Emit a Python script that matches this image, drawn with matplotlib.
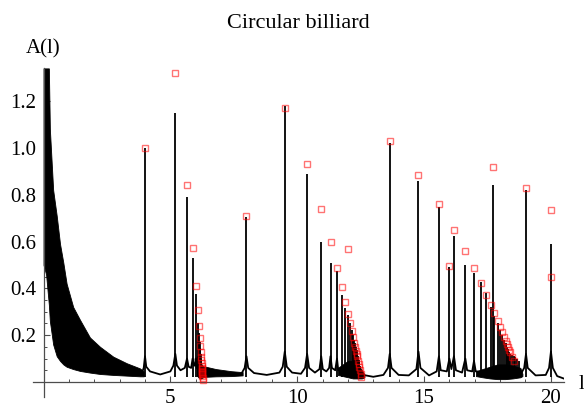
import matplotlib
matplotlib.use("Agg")
import matplotlib.pyplot as plt
from matplotlib.ticker import FixedLocator

# black spectrum: sharp peaks (orbit length, height)
peaks_q1_l = [4.0, 5.196, 5.657, 5.878, 6.0, 6.074, 6.123, 6.156, 6.18, 6.198, 6.212, 6.223, 6.235]
peaks_q1_a = [1.0, 1.15, 0.79, 0.53, 0.375, 0.25, 0.21, 0.17, 0.145, 0.12, 0.1, 0.085, 0.07]
peaks_q2_l = [8.0, 9.511, 10.392, 10.947, 11.314, 11.57, 11.756, 11.894, 12.0, 12.083, 12.149,
              12.202, 12.246, 12.282, 12.313, 12.339, 12.361, 12.394, 12.423, 12.45, 12.48]
peaks_q2_a = [0.706, 1.18, 0.89, 0.60, 0.51, 0.475, 0.37, 0.315, 0.285, 0.25, 0.22,
              0.2, 0.18, 0.165, 0.15, 0.135, 0.125, 0.11, 0.095, 0.085, 0.07]
peaks_q3_l = [13.65, 14.782, 15.588, 16.0, 16.18, 16.63, 16.971, 17.24, 17.458, 17.634, 17.727,
              17.778, 17.898, 18.0, 18.084, 18.16, 18.224, 18.278, 18.326, 18.369, 18.405,
              18.469, 18.54, 18.6, 18.68, 18.76, 19.021, 20.005]
peaks_q3_a = [1.02, 0.86, 0.747, 0.49, 0.624, 0.50, 0.465, 0.426, 0.38, 0.32, 0.84,
              0.28, 0.25, 0.222, 0.2, 0.18, 0.165, 0.15, 0.14, 0.13, 0.12,
              0.115, 0.11, 0.105, 0.1, 0.09, 0.82, 0.59]

# smooth floor of the spectrum between peaks
base_l = [3.85, 3.95, 4.0, 4.05, 4.2, 4.6, 5.0, 5.12, 5.196, 5.26, 5.4, 5.57, 5.657, 5.72,
          5.82, 5.878, 5.93, 5.97, 6.0, 6.04, 6.3, 7.0, 7.8, 7.93, 8.0, 8.07, 8.3, 8.8,
          9.3, 9.43, 9.511, 9.59, 9.8, 10.15, 10.31, 10.392, 10.47, 10.7, 10.88, 10.947,
          11.01, 11.15, 11.26, 11.314, 11.37, 11.5, 11.57, 11.62, 12.6, 13.0, 13.4, 13.58,
          13.65, 13.72, 14.0, 14.4, 14.7, 14.782, 14.86, 15.2, 15.5, 15.588, 15.66, 15.9,
          16.0, 16.08, 16.18, 16.26, 16.5, 16.63, 16.7, 16.9, 16.971, 17.04, 18.85, 18.95,
          19.021, 19.09, 19.4, 19.8, 19.93, 20.005, 20.08, 20.25, 20.5]
base_a = [0.03, 0.06, 0.11, 0.065, 0.045, 0.032, 0.045, 0.07, 0.12, 0.07, 0.05, 0.06, 0.1, 0.065,
          0.06, 0.1, 0.07, 0.07, 0.1, 0.06, 0.035, 0.035, 0.035, 0.06, 0.11, 0.06, 0.038, 0.03,
          0.04, 0.065, 0.13, 0.065, 0.04, 0.035, 0.06, 0.12, 0.06, 0.04, 0.055, 0.11,
          0.055, 0.045, 0.06, 0.11, 0.06, 0.05, 0.1, 0.05, 0.03, 0.022, 0.03, 0.06,
          0.12, 0.06, 0.03, 0.028, 0.055, 0.13, 0.06, 0.028, 0.045, 0.11, 0.05, 0.045,
          0.1, 0.055, 0.11, 0.05, 0.04, 0.1, 0.05, 0.045, 0.09, 0.045, 0.04, 0.06,
          0.12, 0.06, 0.028, 0.03, 0.06, 0.13, 0.06, 0.025, 0.015]

# dense oscillation bands (lower / upper envelope)
band0_l = [0.0, 0.1, 0.21, 0.25, 0.38, 0.52, 0.65, 0.78, 0.91, 1.17, 1.44, 1.83, 2.23, 2.75, 3.28, 3.8, 3.95]
band0_hi = [1.34, 1.34, 1.34, 1.08, 0.82, 0.71, 0.59, 0.51, 0.42, 0.32, 0.265, 0.19, 0.15, 0.108, 0.08, 0.058, 0.045]
band0_lo = [0.5, 0.46, 0.33, 0.26, 0.16, 0.11, 0.09, 0.075, 0.065, 0.055, 0.047, 0.04, 0.034, 0.03, 0.027, 0.024, 0.024]
band1_l = [6.04, 6.1, 6.2, 6.3, 6.4, 6.8, 7.4, 7.85]
band1_hi = [0.11, 0.1, 0.08, 0.065, 0.065, 0.055, 0.046, 0.042]
band1_lo = [0.03, 0.02, 0.015, 0.02, 0.022, 0.024, 0.025, 0.028]
band2_l = [11.6, 11.8, 12.0, 12.2, 12.4, 12.55, 12.65]
band2_hi = [0.06, 0.075, 0.09, 0.09, 0.075, 0.05, 0.032]
band2_lo = [0.03, 0.025, 0.02, 0.015, 0.015, 0.015, 0.02]
band3_l = [17.05, 17.3, 17.6, 17.9, 18.2, 18.5, 18.8, 18.88]
band3_hi = [0.045, 0.055, 0.065, 0.075, 0.075, 0.07, 0.06, 0.035]
band3_lo = [0.025, 0.02, 0.015, 0.012, 0.012, 0.015, 0.02, 0.025]

# red squares: semiclassical amplitudes
sq_q1_l = [4.0, 5.196, 5.657, 5.878, 6.0, 6.074, 6.123, 6.156, 6.180, 6.198, 6.212, 6.223,
           6.231, 6.237, 6.243, 6.247, 6.251, 6.254, 6.257, 6.262, 6.267, 6.272, 6.277]
sq_q1_a = [1.0, 1.32, 0.843, 0.572, 0.41, 0.307, 0.238, 0.189, 0.154, 0.128, 0.108, 0.092,
           0.08, 0.07, 0.061, 0.054, 0.048, 0.044, 0.039, 0.0325, 0.025, 0.0175, 0.01]
sq_q2_l = [8.0, 9.511, 10.392, 10.947, 11.314, 11.570, 11.756, 11.894, 12.0, 12.083, 12.149,
           12.202, 12.246, 12.282, 12.313, 12.339, 12.361, 12.394, 12.423, 12.444, 12.474,
           12.499, 12.52]
sq_q2_a = [0.71, 1.17, 0.93, 0.74, 0.597, 0.488, 0.405, 0.34, 0.29, 0.25, 0.217,
           0.19, 0.168, 0.15, 0.134, 0.121, 0.109, 0.091, 0.076, 0.065, 0.049,
           0.034, 0.023]
sq_q3_l = [12.0, 13.65, 14.782, 15.588, 16.18, 16.63, 16.971, 17.24, 17.458, 17.634, 17.778,
           17.898, 18.0, 18.084, 18.16, 18.224, 18.278, 18.326, 18.369, 18.405, 18.469, 18.541]
sq_q3_a = [0.57, 1.03, 0.885, 0.76, 0.65, 0.558, 0.488, 0.423, 0.372, 0.328, 0.293,
           0.262, 0.236, 0.213, 0.193, 0.176, 0.161, 0.148, 0.136, 0.126, 0.108, 0.088]
sq_q4_l = [16.0, 17.727, 19.021, 20.01, 20.0]
sq_q4_a = [0.495, 0.92, 0.83, 0.735, 0.449]

x_major = [5, 10, 15, 20]
x_minor = [1, 2, 3, 4, 6, 7, 8, 9, 11, 12, 13, 14, 16, 17, 18, 19]
y_major = [0.2, 0.4, 0.6, 0.8, 1.0, 1.2]
y_minor = [0.05, 0.1, 0.15, 0.25, 0.3, 0.35, 0.45, 0.5, 0.55, 0.65, 0.7, 0.75,
           0.85, 0.9, 0.95, 1.05, 1.1, 1.15, 1.25, 1.3]

plt.rcParams["font.family"] = ["Liberation Serif", "DejaVu Serif"]

fig = plt.figure(figsize=(5.84, 4.09), dpi=100)
ax = fig.add_axes([0.0563, 0.0301, 0.9086, 0.8027])
ax.set_xlim(-0.42, 20.5)
ax.set_ylim(-0.063, 1.34)

for bl, lo, hi in [(band0_l, band0_lo, band0_hi), (band1_l, band1_lo, band1_hi),
                   (band2_l, band2_lo, band2_hi), (band3_l, band3_lo, band3_hi)]:
    ax.fill_between(bl, lo, hi, color="black", linewidth=0.6, zorder=2)

ax.plot(base_l, base_a, color="black", linewidth=1.3, zorder=2)
for pl, pa in [(peaks_q1_l, peaks_q1_a), (peaks_q2_l, peaks_q2_a), (peaks_q3_l, peaks_q3_a)]:
    ax.vlines(pl, 0.02, pa, color="black", linewidth=1.3, zorder=2)

for sl, sa in [(sq_q1_l, sq_q1_a), (sq_q2_l, sq_q2_a), (sq_q3_l, sq_q3_a), (sq_q4_l, sq_q4_a)]:
    ax.plot(sl, sa, linestyle="none", marker="s", markersize=5, markerfacecolor="none",
            markeredgecolor="red", markeredgewidth=1.0, alpha=0.55, zorder=3)

# Mathematica style axes crossing at the origin
for side in ["top", "right"]:
    ax.spines[side].set_visible(False)
ax.spines["left"].set_position(("data", 0))
ax.spines["bottom"].set_position(("data", 0))
for side in ["left", "bottom"]:
    ax.spines[side].set_color("#4d4d4d")
    ax.spines[side].set_linewidth(0.9)

ax.xaxis.set_major_locator(FixedLocator(x_major))
ax.xaxis.set_minor_locator(FixedLocator(x_minor))
ax.yaxis.set_major_locator(FixedLocator(y_major))
ax.yaxis.set_minor_locator(FixedLocator(y_minor))
ax.set_xticklabels([str(v) for v in x_major])
ax.set_yticklabels([f"{v:.1f}" for v in y_major])
ax.tick_params(which="both", direction="in", colors="#4d4d4d", labelcolor="black", labelsize=15)
ax.tick_params(which="major", length=4.2, width=0.8)
ax.tick_params(which="minor", length=2.4, width=0.7)
ax.tick_params(axis="x", pad=5)
ax.tick_params(axis="y", pad=5)

ax.text(0, 1.402, "A(l)", ha="center", va="baseline", fontsize=15, clip_on=False)
ax.text(21.1, -0.03, "l", ha="left", va="baseline", fontsize=15, clip_on=False)
fig.text(0.510, 0.9315, "Circular billiard", ha="center", va="baseline", fontsize=16)

fig.savefig("out.png", dpi=100, facecolor="white")
